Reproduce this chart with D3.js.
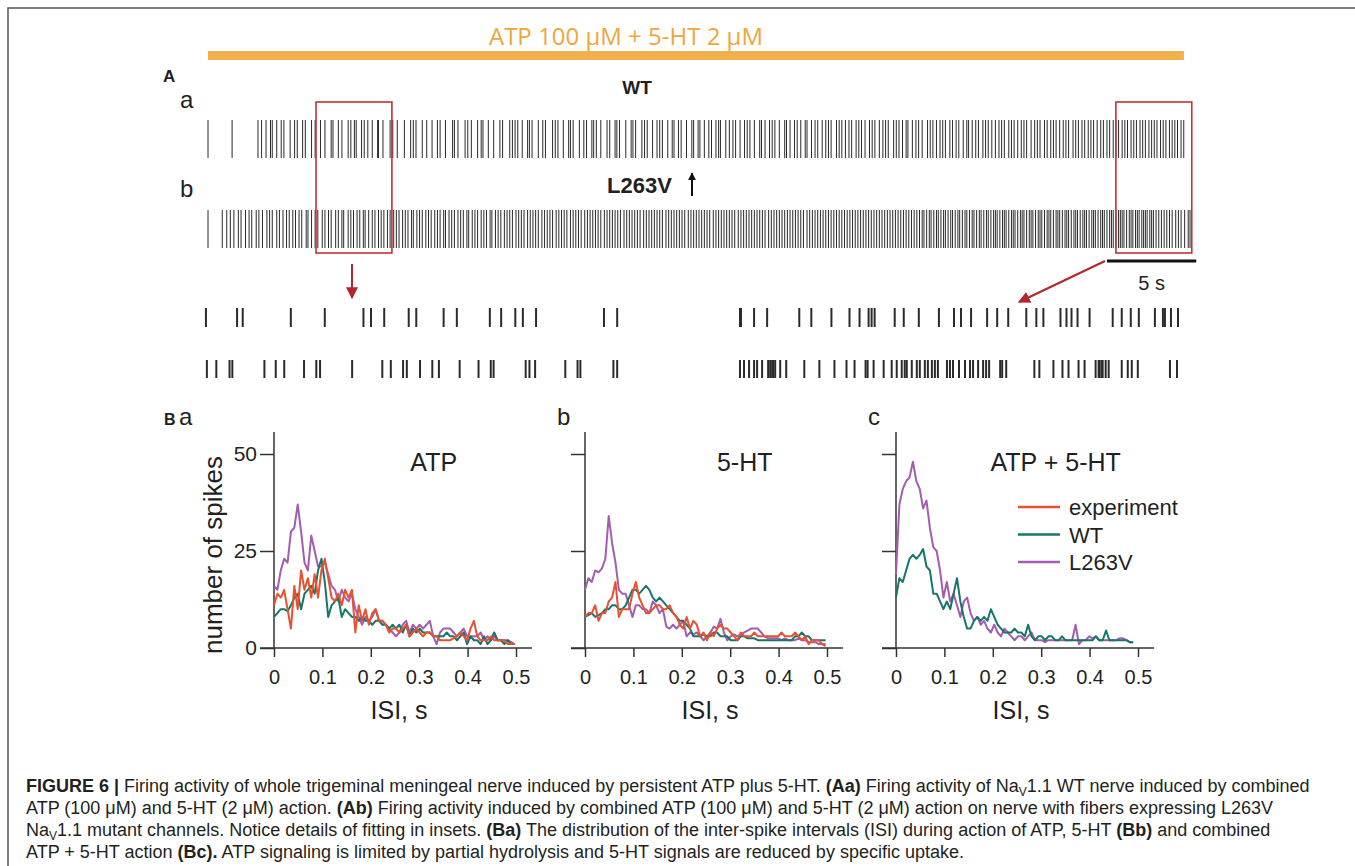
<!DOCTYPE html>
<html>
<head>
<meta charset="utf-8">
<script src="https://cdn.jsdelivr.net/npm/d3@7"></script>
<style>
  body { margin: 0; background: #fff; }
  text { font-family: "Liberation Sans", Arial, sans-serif; fill: #231f20; }
</style>
</head>
<body>
<script>
// ---- raster data (spike times, s) ----
const wtSpikes = [0.0, 1.35, 2.8, 3.0, 3.25, 3.5, 3.6, 3.85, 4.1, 4.25, 4.6, 4.85, 5.0, 5.3, 5.45, 5.8, 6.0, 6.3, 6.55, 6.9, 7.0, 7.3, 7.5, 7.85, 8.0, 8.2, 8.3, 8.6, 8.75, 8.95, 9.2, 9.5, 9.55, 9.8, 10.2, 10.35, 10.6, 11.0, 11.35, 11.5, 11.65, 12.0, 12.25, 12.55, 12.85, 13.0, 13.3, 13.7, 13.8, 14.0, 14.4, 14.55, 14.75, 15.1, 15.3, 15.4, 15.7, 16.0, 16.35, 16.5, 16.9, 17.05, 17.2, 17.35, 17.6, 17.9, 18.0, 18.15, 18.5, 18.75, 18.9, 19.3, 19.45, 19.6, 19.9, 20.2, 20.3, 20.45, 20.8, 21.05, 21.2, 21.5, 21.6, 21.75, 22.0, 22.35, 22.5, 22.8, 22.9, 23.05, 23.4, 23.7, 23.8, 23.95, 24.3, 24.45, 24.6, 24.9, 25.15, 25.3, 25.45, 25.75, 26.0, 26.1, 26.35, 26.5, 26.8, 27.1, 27.2, 27.45, 27.55, 27.8, 28.05, 28.2, 28.45, 28.6, 28.7, 29.0, 29.2, 29.4, 29.55, 29.8, 30.05, 30.2, 30.35, 30.6, 30.9, 31.0, 31.2, 31.45, 31.6, 31.75, 32.0, 32.3, 32.4, 32.6, 32.85, 33.0, 33.2, 33.45, 33.55, 33.8, 34.0, 34.15, 34.4, 34.6, 34.75, 34.9, 35.2, 35.35, 35.5, 35.7, 35.9, 36.05, 36.3, 36.45, 36.6, 36.8, 37.05, 37.2, 37.35, 37.6, 37.8, 37.95, 38.1, 38.4, 38.55, 38.7, 38.9, 39.1, 39.2, 39.45, 39.65, 39.8, 40.0, 40.3, 40.45, 40.6, 40.8, 41.0, 41.15, 41.3, 41.55, 41.7, 41.9, 42.05, 42.3, 42.5, 42.6, 42.8, 43.0, 43.15, 43.4, 43.55, 43.7, 43.9, 44.1, 44.3, 44.45, 44.6, 44.85, 45.0, 45.15, 45.35, 45.55, 45.7, 45.85, 46.1, 46.3, 46.45, 46.6, 46.85, 47.0, 47.2, 47.35, 47.5, 47.7, 47.9, 48.05, 48.2, 48.45, 48.6, 48.75, 48.95, 49.1, 49.3, 49.45, 49.6, 49.8, 50.0, 50.15, 50.35, 50.5, 50.7, 50.85, 51.0, 51.2, 51.35, 51.5, 51.7, 51.85, 52.0, 52.2, 52.35, 52.5, 52.7, 52.85, 53.0, 53.15, 53.35, 53.5, 53.65, 53.85, 54.0, 54.15, 54.3, 54.5, 54.65];

const l263vSpikes = [0.0, 0.8, 1.05, 1.25, 1.45, 1.7, 1.85, 2.1, 2.3, 2.45, 2.7, 2.85, 3.05, 3.3, 3.45, 3.6, 3.85, 4.0, 4.2, 4.4, 4.55, 4.75, 4.9, 5.1, 5.25, 5.5, 5.6, 5.8, 6.0, 6.15, 6.4, 6.55, 6.75, 6.9, 7.15, 7.3, 7.5, 7.6, 7.85, 8.0, 8.15, 8.35, 8.5, 8.7, 8.8, 9.0, 9.2, 9.35, 9.55, 9.7, 9.85, 10.05, 10.2, 10.4, 10.55, 10.7, 10.9, 11.05, 11.2, 11.4, 11.5, 11.7, 11.85, 12.0, 12.2, 12.35, 12.5, 12.7, 12.85, 13.0, 13.2, 13.3, 13.5, 13.65, 13.8, 14.0, 14.15, 14.3, 14.5, 14.6, 14.8, 14.95, 15.1, 15.3, 15.45, 15.6, 15.8, 15.9, 16.1, 16.25, 16.4, 16.6, 16.75, 16.9, 17.05, 17.25, 17.4, 17.55, 17.7, 17.9, 18.05, 18.2, 18.35, 18.5, 18.7, 18.85, 19.0, 19.15, 19.3, 19.5, 19.65, 19.8, 19.95, 20.1, 20.3, 20.45, 20.6, 20.75, 20.9, 21.1, 21.25, 21.4, 21.55, 21.7, 21.85, 22.0, 22.2, 22.35, 22.5, 22.65, 22.8, 22.95, 23.1, 23.3, 23.45, 23.6, 23.75, 23.9, 24.05, 24.2, 24.4, 24.55, 24.7, 24.85, 25.0, 25.15, 25.3, 25.45, 25.65, 25.8, 25.95, 26.1, 26.25, 26.4, 26.55, 26.7, 26.9, 27.05, 27.2, 27.35, 27.5, 27.65, 27.8, 27.95, 28.1, 28.3, 28.45, 28.6, 28.75, 28.9, 29.05, 29.2, 29.35, 29.5, 29.7, 29.85, 30.0, 30.15, 30.3, 30.45, 30.6, 30.75, 30.9, 31.05, 31.2, 31.4, 31.55, 31.7, 31.85, 32.0, 32.15, 32.3, 32.45, 32.6, 32.75, 32.9, 33.05, 33.2, 33.35, 33.55, 33.7, 33.85, 34.0, 34.15, 34.3, 34.45, 34.6, 34.75, 34.9, 35.05, 35.2, 35.35, 35.5, 35.65, 35.8, 35.95, 36.1, 36.25, 36.4, 36.55, 36.7, 36.85, 37.0, 37.15, 37.3, 37.45, 37.6, 37.75, 37.9, 38.05, 38.2, 38.35, 38.5, 38.65, 38.8, 38.95, 39.1, 39.25, 39.4, 39.55, 39.7, 39.85, 40.0, 40.1, 40.25, 40.4, 40.5, 40.65, 40.8, 40.9, 41.05, 41.2, 41.3, 41.45, 41.6, 41.7, 41.85, 42.0, 42.1, 42.25, 42.4, 42.5, 42.65, 42.8, 42.9, 43.05, 43.2, 43.3, 43.45, 43.6, 43.7, 43.85, 44.0, 44.1, 44.2, 44.35, 44.5, 44.6, 44.7, 44.85, 45.0, 45.1, 45.2, 45.35, 45.5, 45.6, 45.7, 45.85, 46.0, 46.1, 46.2, 46.35, 46.5, 46.6, 46.7, 46.85, 47.0, 47.1, 47.2, 47.35, 47.5, 47.6, 47.7, 47.85, 48.0, 48.1, 48.2, 48.35, 48.5, 48.6, 48.7, 48.85, 49.0, 49.1, 49.2, 49.35, 49.5, 49.6, 49.7, 49.85, 50.0, 50.1, 50.2, 50.35, 50.5, 50.6, 50.7, 50.85, 51.0, 51.1, 51.2, 51.3, 51.45, 51.6, 51.7, 51.8, 51.95, 52.05, 52.15, 52.3, 52.4, 52.5, 52.6, 52.75, 52.85, 52.95, 53.1, 53.25, 53.4, 53.55, 53.7, 53.85, 54.0, 54.2, 54.35, 54.5, 54.7, 54.9, 55.0];

// insets (s, from start of the boxed window)
const insetWTLeft = [0.01, 0.34, 0.40, 0.91, 1.27, 1.68, 1.76, 1.90, 2.16, 2.24, 2.53, 2.67, 3.02, 3.14, 3.29, 3.37, 3.51, 4.23, 4.37];
const insetL263VLeft = [0.02, 0.12, 0.26, 0.29, 0.63, 0.75, 0.84, 1.05, 1.18, 1.22, 1.56, 1.88, 1.97, 2.10, 2.14, 2.28, 2.41, 2.48, 2.70, 2.90, 3.03, 3.06, 3.40, 3.44, 3.50, 3.82, 3.95, 3.98, 4.33, 4.37];
const insetWTRight = [0.02, 0.03, 0.16, 0.29, 0.61, 0.73, 0.93, 1.11, 1.21, 1.30, 1.33, 1.36, 1.56, 1.65, 1.80, 2.00, 2.15, 2.22, 2.32, 2.48, 2.58, 2.69, 2.87, 2.97, 3.04, 3.21, 3.27, 3.32, 3.38, 3.50, 3.73, 3.82, 3.91, 3.99, 4.15, 4.23, 4.25, 4.31, 4.38];
const insetL263VRight = [0.02, 0.06, 0.11, 0.16, 0.19, 0.24, 0.30, 0.32, 0.34, 0.35, 0.37, 0.42, 0.48, 0.66, 0.81, 0.96, 1.08, 1.16, 1.27, 1.29, 1.35, 1.45, 1.53, 1.58, 1.63, 1.66, 1.68, 1.73, 1.78, 1.81, 1.86, 1.89, 1.93, 1.96, 1.99, 2.08, 2.11, 2.14, 2.20, 2.26, 2.31, 2.34, 2.39, 2.44, 2.47, 2.50, 2.61, 2.63, 2.67, 2.95, 3.00, 3.14, 3.23, 3.29, 3.39, 3.45, 3.56, 3.59, 3.60, 3.62, 3.63, 3.66, 3.69, 3.82, 3.88, 3.92, 3.98, 4.30, 4.37];

const applicationEnd = 54.66;
const zoomWindows = [[6.05, 10.3], [50.85, 55.1]];

// ---- ISI histograms (number of spikes per 7 ms bin) ----
const isiBins = d3.range(72).map(i => i * 0.007);
const atpExp   = [11,14,13,15,10,5,16,10,20,15,18,13,19,13,20,23,18,13,12,14,11,15,13,15,4,11,7,10,6,9,10,7,7,6,4,5,5,4,5,6,3,4,5,4,3,4,4,3,3,2,2,2,2,2.5,3,4,3,2,5,7,3,2,2,2,3,2,2,2,2,1,1,1];
const atpWT    = [8,9,10,10,9.5,11,13,14,10,14,15,16,14,20,23,17,8,11,12,13,8,10,9,8,8,7,8,7,7,6,7,7,6,6,5,6,5,6,4,6,3,5,4,5,4,4,4,3,3,3,3,4,3,3,2,3,4,1,3,2,2,1,3,1,2,4,2,2,1,2,1,1];
const atpL263V = [16,15,20,23,22,30,31,37,30,22,20,29,25,21,21,22,19,16,15,12,15,13,12,14,10,8,6,8,7,8,10,7,7,6,5,4,3,4,6,7,4,6,5,6,5,6,7,3,1,4,5,5,5,4,3,4,5,3,3,3,3,4,2,3,2,3,2,2,2,2,1.5,1];
const htExp    = [8,9,9,11,7,9,9,12,13,17,8,10,10,10,14,17,13,11,9,9,10,11,11,10,10,11,9,8,6,5,8,5,7,6,3,4,2,4,3,5,6,5,5,4,3,2,4,3,3,3,4,3,3,3,3,3,3,3,4,3,3,3,4,3,2,3,1,2,2,2,1,0.5];
const htWT     = [8,8.5,9,8,8.5,9,10,10,11,11,10,10,11,13,15,15,14,15,16,15,13,12,13,12,11,10,9,8,7,7,6,5,3,3,3,3.5,3,3,4,4,3,3,3,2,2,2,3,3,2.5,2.5,2.5,2,2,2,2,2,2,2,2,2,2,2,3,3,4,3,3,2,2,2,2,2];
const htL263V  = [15,18,17,20,19.5,20.5,23,34,27,22,15,14,14,11,8,11,11,10,10,9,12,11,9,10,5.5,5,6,5,6,7,3,4,3.5,4,3,2,3,4,5.5,5,7.5,4,2,3,3.5,3,3.5,4,4.5,5,5,5,4,3,2.5,2.5,2.5,2.5,2,2.5,2,2,2,2.5,2,2,1.5,1.5,1.5,1,1,1];
const bothWT    = [13,18,17,20,23,24,23,24,25.5,21,20,14,14,12,10,12,10,14,18,12,8,5,5,7,8,7,8,7,10,8,6,5,4,4,4,5,4,4,3,6,3,2,3,3,2,3,3,2,2,3,2,2,2,2,2,2,2,2,2,3,2,2,4.5,2,2,2,2,2,2,1.5,1.5];
const bothL263V = [19,37,41,43,44,48,43,41,36,38,31,26,25,20,13,17,12,14,11,8,12,13,9,7,8,6,7,5,4,6,4,3,5,4,3,2,3,3,2,3,4,2,2,2,1.5,2,2,2,2,2,2,2,2,6,1,2,2,3,2.5,3,2,2,2,2,2,2,2.5,2.5,2,1.5,1.5];

const xTicks = [0, 0.1, 0.2, 0.3, 0.4, 0.5];
const yTicks = [0, 25, 50];
const seriesNames = ['experiment', 'WT', 'L263V'];
const colors = {experiment: '#e8512f', WT: '#16766a', L263V: '#a45cb1'};

const svg = d3.select('body').append('svg')
    .attr('width', 1355)
    .attr('height', 866);

// frame
svg.append('path')
    .attr('d', 'M8,866 V8 H1355')
    .attr('fill', 'none')
    .attr('stroke', '#555')
    .attr('stroke-width', 1.5);

// ================= panel A =================
const tScale = d3.scaleLinear().domain([0, 55]).range([208, 1190]);

svg.append('text')
    .text('ATP 100 µM + 5-HT 2 µM')
    .attr('x', 626).attr('y', 45)
    .attr('text-anchor', 'middle')
    .style('font-family', '"Open Sans", sans-serif')
    .style('font-size', '24px')
    .style('fill', '#f0a63b');

svg.append('rect')
    .attr('x', tScale(0))
    .attr('y', 51)
    .attr('width', tScale(applicationEnd) - tScale(0))
    .attr('height', 9)
    .attr('fill', '#f2b04a');

svg.append('text').text('A').attr('x', 163).attr('y', 82)
    .style('font-weight', 'bold').style('font-size', '17px');
svg.append('text').text('a').attr('x', 180).attr('y', 108).style('font-size', '24px');
svg.append('text').text('b').attr('x', 180).attr('y', 197).style('font-size', '24px');

svg.append('text').text('WT').attr('x', 637).attr('y', 94)
    .attr('text-anchor', 'middle')
    .style('font-weight', 'bold').style('font-size', '19px');
svg.append('text').text('L263V').attr('x', 607).attr('y', 193)
    .style('font-weight', 'bold').style('font-size', '22px');

// small black arrow after L263V
const defs = svg.append('defs');
defs.append('marker')
    .attr('id', 'blackhead')
    .attr('viewBox', '0 0 10 10')
    .attr('refX', 9).attr('refY', 5)
    .attr('markerWidth', 4).attr('markerHeight', 4)
    .attr('orient', 'auto')
    .append('path')
    .attr('d', 'M0,0 L10,5 L0,10 Z')
    .attr('fill', '#111');
svg.append('line')
    .attr('x1', 692).attr('x2', 692)
    .attr('y1', 196).attr('y2', 173)
    .attr('stroke', '#111').attr('stroke-width', 2)
    .attr('marker-end', 'url(#blackhead)');

const rasterRows = [
    {spikes: wtSpikes, y0: 120, y1: 158},
    {spikes: l263vSpikes, y0: 210, y1: 248}
];
rasterRows.forEach(row => {
    svg.append('g').selectAll('line')
        .data(row.spikes)
        .enter()
        .append('line')
        .attr('x1', d => tScale(d))
        .attr('x2', d => tScale(d))
        .attr('y1', row.y0)
        .attr('y2', row.y1)
        .attr('stroke', '#2a2a2a')
        .attr('stroke-width', 1);
});

// boxes around zoomed windows
svg.selectAll('.zoombox')
    .data(zoomWindows)
    .enter()
    .append('rect')
    .attr('x', d => tScale(d[0]))
    .attr('width', d => tScale(d[1]) - tScale(d[0]))
    .attr('y', 102)
    .attr('height', 151)
    .attr('fill', 'none')
    .attr('stroke', '#c1323a')
    .attr('stroke-width', 1.6);

// 5 s scale bar
svg.append('line')
    .attr('x1', tScale(50.35)).attr('x2', tScale(55.35))
    .attr('y1', 261).attr('y2', 261)
    .attr('stroke', '#111').attr('stroke-width', 3);
svg.append('text').text('5 s')
    .attr('x', tScale(52.85)).attr('y', 290)
    .attr('text-anchor', 'middle')
    .style('font-size', '20px');

// red arrows
defs.append('marker')
    .attr('id', 'redhead')
    .attr('viewBox', '0 0 10 10')
    .attr('refX', 9).attr('refY', 5)
    .attr('markerWidth', 6).attr('markerHeight', 6)
    .attr('markerUnits', 'strokeWidth')
    .attr('orient', 'auto')
    .append('path')
    .attr('d', 'M0,0 L10,5 L0,10 Z')
    .attr('fill', '#b3262d');
[[352, 264, 352, 298], [1105, 261, 1019, 302]].forEach(a => {
    svg.append('line')
        .attr('x1', a[0]).attr('y1', a[1]).attr('x2', a[2]).attr('y2', a[3])
        .attr('stroke', '#b3262d').attr('stroke-width', 2)
        .attr('marker-end', 'url(#redhead)');
});

// insets
const insetLeft = d3.scaleLinear().domain([0, 4.4]).range([205, 620]);
const insetRight = d3.scaleLinear().domain([0, 4.4]).range([738, 1180]);
const insetRows = [
    {spikes: insetWTLeft, scale: insetLeft, y0: 308, y1: 327},
    {spikes: insetL263VLeft, scale: insetLeft, y0: 360, y1: 378},
    {spikes: insetWTRight, scale: insetRight, y0: 308, y1: 327},
    {spikes: insetL263VRight, scale: insetRight, y0: 360, y1: 378}
];
insetRows.forEach(row => {
    svg.append('g').selectAll('line')
        .data(row.spikes)
        .enter()
        .append('line')
        .attr('x1', d => row.scale(d))
        .attr('x2', d => row.scale(d))
        .attr('y1', row.y0)
        .attr('y2', row.y1)
        .attr('stroke', '#2b2b2b')
        .attr('stroke-width', 2);
});

// ================= panel B =================
const panels = [
    {left: 274, letter: 'a', title: 'ATP', labels: true,
     series: {experiment: atpExp, WT: atpWT, L263V: atpL263V}},
    {left: 585, letter: 'b', title: '5-HT', labels: false,
     series: {experiment: htExp, WT: htWT, L263V: htL263V}},
    {left: 896, letter: 'c', title: 'ATP + 5-HT', labels: false,
     series: {WT: bothWT, L263V: bothL263V}}
];

svg.append('text').text('B').attr('x', 164).attr('y', 425)
    .style('font-weight', 'bold').style('font-size', '16px');

const yScale = d3.scaleLinear().domain([0, 50]).range([648, 454]);

panels.forEach(p => {
    const x = d3.scaleLinear().domain([0, 0.5]).range([p.left, p.left + 242]);
    const g = svg.append('g');

    g.append('text').text(p.letter)
        .attr('x', p.left - (p.letter === 'a' ? 95 : 28)).attr('y', 425)
        .style('font-size', '24px');

    const xa = g.append('g')
        .attr('transform', 'translate(0,648)')
        .call(d3.axisBottom(x).tickValues(xTicks).tickSize(9).tickPadding(13)
            .tickFormat(d => d === 0 ? '0' : d3.format('.1f')(d)));
    xa.select('.domain').remove();
    xa.selectAll('line').attr('stroke', '#333').attr('stroke-width', 1.5);
    xa.selectAll('text')
        .attr('fill', '#231f20')
        .style('font-size', '20px')
        .style('font-family', '"Liberation Sans", Arial, sans-serif');

    const ya = g.append('g')
        .attr('transform', `translate(${p.left},0)`)
        .call(d3.axisLeft(yScale).tickValues(yTicks).tickSize(14).tickPadding(3)
            .tickFormat(d => p.labels ? d : ''));
    ya.select('.domain').remove();
    ya.selectAll('line').attr('stroke', '#333').attr('stroke-width', 1.5);
    ya.selectAll('text')
        .attr('fill', '#231f20')
        .style('font-size', '21px')
        .style('font-family', '"Liberation Sans", Arial, sans-serif');

    g.append('line')
        .attr('x1', x(-0.029)).attr('x2', x(0.533))
        .attr('y1', 648).attr('y2', 648)
        .attr('stroke', '#333').attr('stroke-width', 1.5);
    g.append('line')
        .attr('x1', p.left).attr('x2', p.left)
        .attr('y1', yScale(55.7)).attr('y2', 648)
        .attr('stroke', '#333').attr('stroke-width', 1.5);

    g.append('text').text('ISI, s')
        .attr('x', x(0.25) + 4).attr('y', 719)
        .attr('text-anchor', 'middle')
        .style('font-size', '25px');

    g.append('text').text(p.title)
        .attr('x', x(0.33)).attr('y', 471)
        .attr('text-anchor', 'middle')
        .style('font-size', '25px');

    const line = d3.line()
        .x((d, i) => x(isiBins[i]))
        .y(d => yScale(d));
    ['L263V', 'WT', 'experiment'].forEach(name => {
        if (!p.series[name]) return;
        g.append('path')
            .datum(p.series[name])
            .attr('d', line)
            .attr('fill', 'none')
            .attr('stroke', colors[name])
            .attr('stroke-width', 2)
            .attr('stroke-linejoin', 'round');
    });
});

svg.append('text').text('number of spikes')
    .attr('transform', 'translate(222,555) rotate(-90)')
    .attr('text-anchor', 'middle')
    .style('font-size', '26px');

// legend
const legend = svg.append('g').attr('transform', 'translate(1018,507)');
seriesNames.forEach((name, i) => {
    legend.append('line')
        .attr('x1', 0).attr('x2', 42)
        .attr('y1', i * 27.5).attr('y2', i * 27.5)
        .attr('stroke', colors[name]).attr('stroke-width', 2.5);
    legend.append('text').text(name)
        .attr('x', 51).attr('y', i * 27.5 + 8)
        .style('font-size', '22px');
});

// ================= caption =================
const captionLines = [
    [['FIGURE 6 | ', 'b'], ['Firing activity of whole trigeminal meningeal nerve induced by persistent ATP plus 5-HT. '], ['(Aa)', 'b'], [' Firing activity of Na'], ['V', 's'], ['1.1 WT nerve induced by combined']],
    [['ATP (100 μM) and 5-HT (2 μM) action. '], ['(Ab)', 'b'], [' Firing activity induced by combined ATP (100 μM) and 5-HT (2 μM) action on nerve with fibers expressing L263V']],
    [['Na'], ['V', 's'], ['1.1 mutant channels. Notice details of fitting in insets. '], ['(Ba)', 'b'], [' The distribution of the inter-spike intervals (ISI) during action of ATP, 5-HT '], ['(Bb)', 'b'], [' and combined']],
    [['ATP + 5-HT action '], ['(Bc).', 'b'], [' ATP signaling is limited by partial hydrolysis and 5-HT signals are reduced by specific uptake.']]
];
const captionY = [792, 814, 836, 858];
captionLines.forEach((segs, i) => {
    const t = svg.append('text')
        .attr('x', 26).attr('y', captionY[i])
        .style('font-size', '18px')
        .attr('xml:space', 'preserve');
    let lowered = false;
    segs.forEach(s => {
        const ts = t.append('tspan').text(s[0]);
        if (s[1] === 'b') ts.style('font-weight', 'bold');
        if (s[1] === 's') {
            ts.attr('dy', 4).style('font-size', '12px');
            lowered = true;
        } else if (lowered) {
            ts.attr('dy', -4);
            lowered = false;
        }
    });
});
</script>
</body>
</html>
